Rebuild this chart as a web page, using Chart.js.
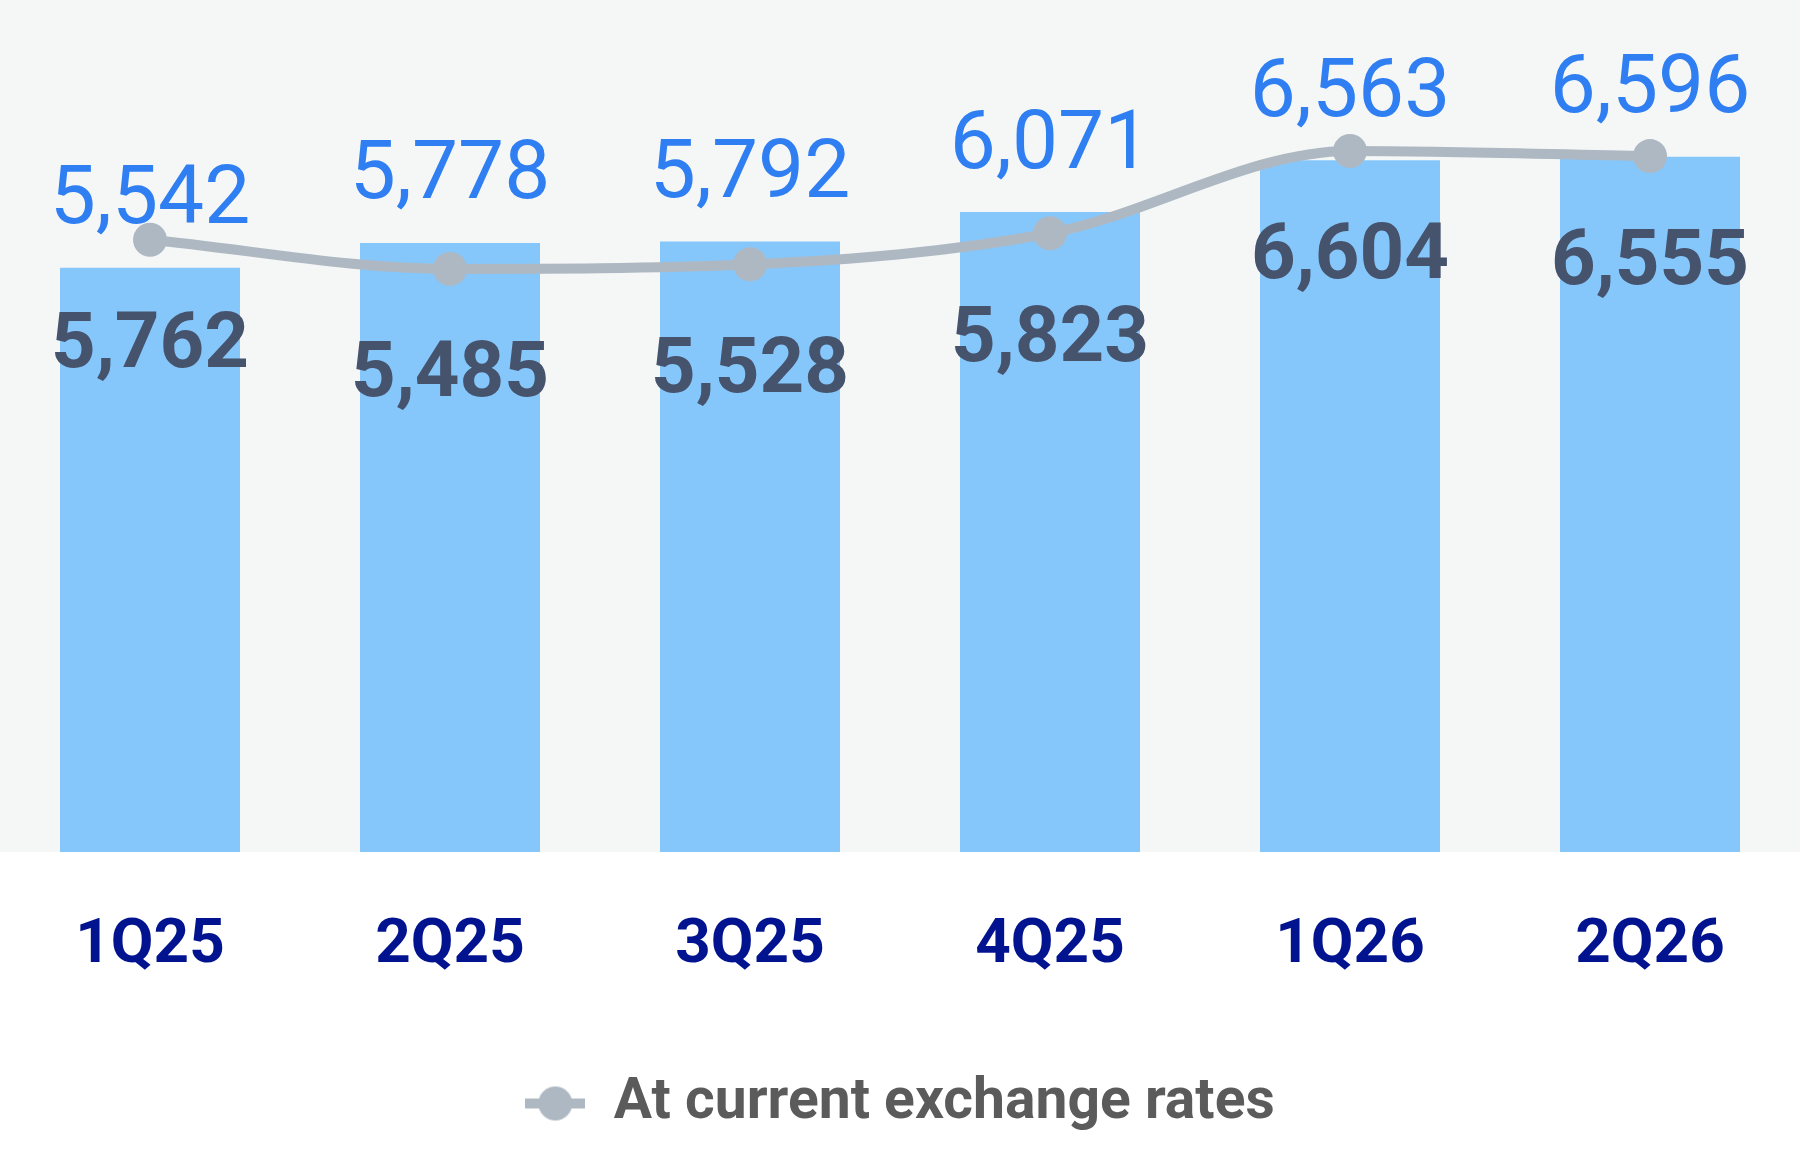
<!DOCTYPE html>
<html>
<head>
<meta charset="utf-8">
<script src="https://cdn.jsdelivr.net/npm/chart.js@4.4.1/dist/chart.umd.min.js"></script>
<style>
  html, body { margin: 0; padding: 0; background: #ffffff; }
  #wrap { width: 1800px; height: 1152px; }
</style>
</head>
<body>
<div id="wrap"><canvas id="quarterChart" width="1800" height="1152"></canvas></div>
<script>
const quarters = ["1Q25", "2Q25", "3Q25", "4Q25", "1Q26", "2Q26"];
const constantRates = [5542, 5778, 5792, 6071, 6563, 6596];
const currentRates = [5762, 5485, 5528, 5823, 6604, 6555];
const legendLabel = "At current exchange rates";

const fmt = (v) => v.toLocaleString("en-US");

// legend marker: short line with a dot on it
const marker = document.createElement("canvas");
marker.width = 60;
marker.height = 36;
const mctx = marker.getContext("2d");
mctx.fillStyle = "#aeb8c2";
mctx.fillRect(0, 13, 60, 10);
mctx.beginPath();
mctx.arc(30, 18, 17, 0, Math.PI * 2);
mctx.fill();

const chartBg = {
  id: "chartBg",
  beforeDraw(chart) {
    const { ctx, chartArea } = chart;
    ctx.save();
    ctx.fillStyle = "#f5f7f7";
    ctx.fillRect(0, 0, chart.width, chartArea.bottom);
    ctx.restore();
  },
};

const valueLabels = {
  id: "valueLabels",
  afterDatasetDraw(chart, args) {
    if (args.index !== 0) return;
    const ctx = chart.ctx;
    ctx.save();
    ctx.font = "400 82px Roboto";
    ctx.fillStyle = "#2f7ff2";
    ctx.textAlign = "center";
    ctx.textBaseline = "middle";
    args.meta.data.forEach((bar, i) => {
      ctx.fillText(fmt(constantRates[i]), bar.x, bar.y - 65);
    });
    ctx.restore();
  },
  afterDatasetsDraw(chart) {
    const ctx = chart.ctx;
    const meta = chart.getDatasetMeta(1);
    ctx.save();
    ctx.font = "700 78px Roboto";
    ctx.fillStyle = "#46536d";
    ctx.textAlign = "center";
    ctx.textBaseline = "middle";
    meta.data.forEach((pt, i) => {
      ctx.fillText(fmt(currentRates[i]), pt.x, pt.y + 108);
    });
    ctx.restore();
  },
};

new Chart(document.getElementById("quarterChart"), {
  data: {
    labels: quarters,
    datasets: [
      {
        type: "bar",
        label: "At constant exchange rates",
        data: constantRates,
        backgroundColor: "#86c7fb",
        barPercentage: 0.6,
        categoryPercentage: 1.0,
        yAxisID: "y",
        order: 1,
      },
      {
        type: "line",
        label: legendLabel,
        data: currentRates,
        borderColor: "#aeb8c2",
        backgroundColor: "#aeb8c2",
        borderWidth: 10,
        pointRadius: 17,
        pointBorderWidth: 0,
        pointBackgroundColor: "#aeb8c2",
        cubicInterpolationMode: "monotone",
        clip: false,
        yAxisID: "y1",
        order: 0,
      },
    ],
  },
  options: {
    responsive: false,
    animation: false,
    layout: { autoPadding: false, padding: { top: 0, left: 0, right: 0, bottom: 10 } },
    scales: {
      x: {
        grid: { display: false, drawTicks: false },
        border: { display: false },
        ticks: {
          padding: 57,
          color: "#021390",
          font: { family: "Roboto", size: 62, weight: "bold" },
        },
        afterFit(scale) {
          scale.height = 213;
        },
      },
      y: { display: false, min: 0, max: 8083 },
      y1: { display: false, min: -47, max: 8036 },
    },
    plugins: {
      tooltip: { enabled: false },
      legend: {
        position: "bottom",
        labels: {
          usePointStyle: true,
          pointStyleWidth: 60,
          padding: 10,
          color: "#5b5b5b",
          font: { family: "Roboto", size: 57, weight: "bold" },
          filter: (item) => item.datasetIndex === 1,
          generateLabels(chart) {
            const items = Chart.defaults.plugins.legend.labels.generateLabels(chart);
            items.forEach((it) => { it.pointStyle = marker; });
            return items;
          },
        },
      },
    },
  },
  plugins: [chartBg, valueLabels],
});
</script>
</body>
</html>
